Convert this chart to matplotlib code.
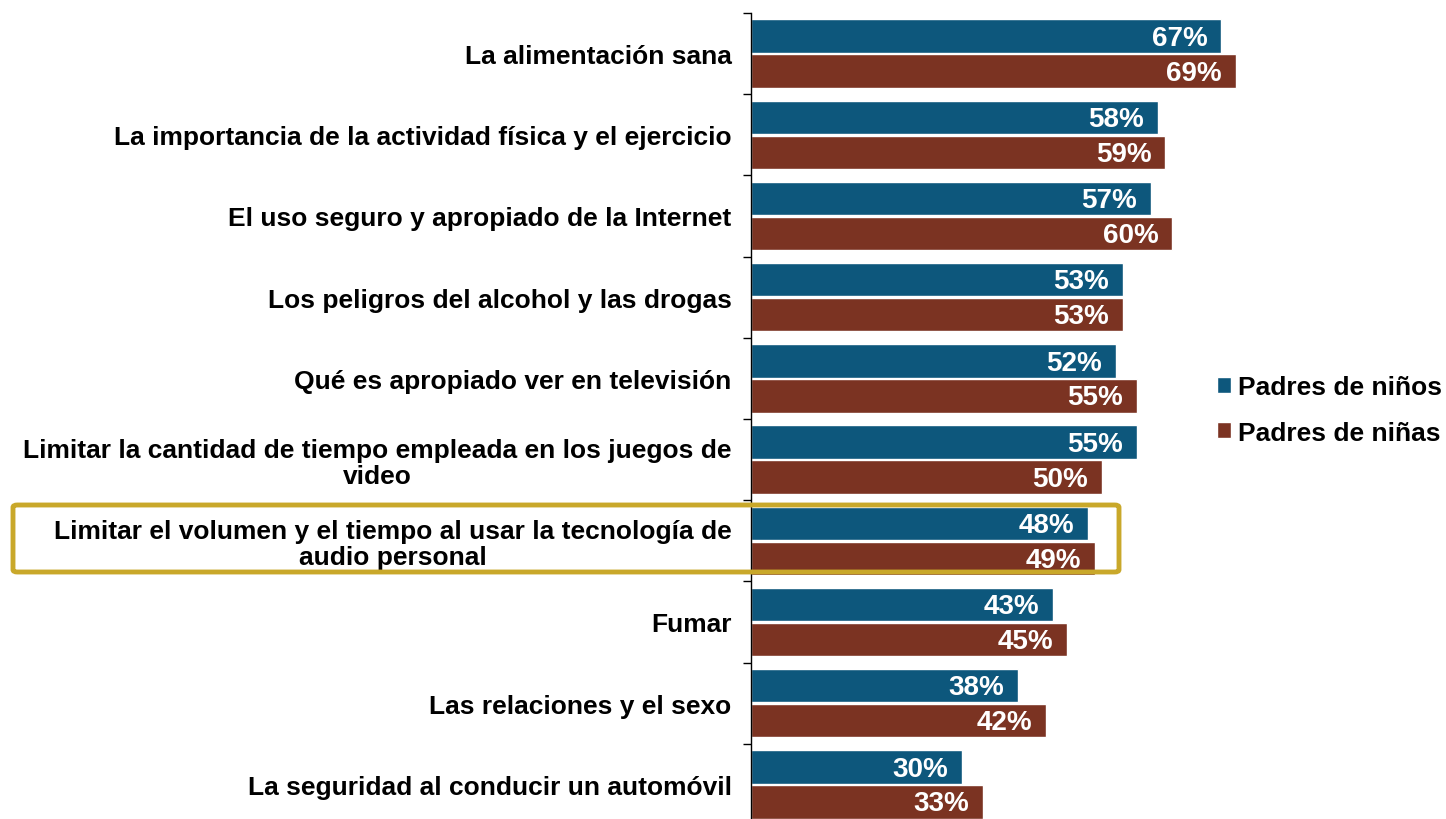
import matplotlib
matplotlib.use('Agg')
import matplotlib.pyplot as plt
import numpy as np
from matplotlib.patches import Patch, FancyBboxPatch

plt.rcParams['font.family'] = ['Liberation Sans', 'DejaVu Sans']

categorias = [
    'La alimentación sana',
    'La importancia de la actividad física y el ejercicio',
    'El uso seguro y apropiado de la Internet',
    'Los peligros del alcohol y las drogas',
    'Qué es apropiado ver en televisión',
    'Limitar la cantidad de tiempo empleada en los juegos de\nvideo',
    'Limitar el volumen y el tiempo al usar la tecnología de\naudio personal',
    'Fumar',
    'Las relaciones y el sexo',
    'La seguridad al conducir un automóvil',
]
padres_ninos = [67, 58, 57, 53, 52, 55, 48, 43, 38, 30]
padres_ninas = [69, 59, 60, 53, 55, 50, 49, 45, 42, 33]
series = ['Padres de niños', 'Padres de niñas']
colores = ['#0D577C', '#7B3322']

fig = plt.figure(figsize=(14.46, 8.2), dpi=100)
ax = fig.add_axes([751 / 1446, -6 / 820, 632 / 1446, 812 / 820])

y = np.arange(len(categorias))
h = 0.41
off = 0.215
b1 = ax.barh(y - off, padres_ninos, height=h, color=colores[0], edgecolor='white', linewidth=1)
b2 = ax.barh(y + off, padres_ninas, height=h, color=colores[1], edgecolor='white', linewidth=1)

# etiquetas de valor dentro de cada barra
for bars, vals in ((b1, padres_ninos), (b2, padres_ninas)):
    for bar, v in zip(bars, vals):
        ax.text(v - 2.0, bar.get_y() + bar.get_height() / 2 + 0.02, f'{v}%',
                ha='right', va='center', color='white', fontsize=20, fontweight='bold')

ax.set_xlim(0, 90)
ax.set_ylim(len(categorias) - 0.5, -0.5)
ax.set_yticks(y)
ax.set_yticklabels(categorias, fontsize=19, fontweight='bold', ha='right',
                   multialignment='center', linespacing=1.1)
ax.tick_params(axis='y', which='major', length=0, pad=14)
ax.set_yticks(np.arange(-0.5, len(categorias), 1), minor=True)
ax.tick_params(axis='y', which='minor', length=6, width=1, direction='out')
ax.set_xticks([])
for s in ['top', 'right', 'bottom']:
    ax.spines[s].set_visible(False)
ax.spines['left'].set_linewidth(1)

handles = [Patch(facecolor=c, edgecolor='white') for c in colores]
fig.legend(handles, series, loc='center left', bbox_to_anchor=(1193 / 1446, 1 - 411 / 820),
           frameon=False, prop={'size': 19, 'weight': 'bold'},
           handlelength=0.55, handleheight=0.55, handletextpad=0.25, labelspacing=0.8)

# recuadro de resaltado
caja = FancyBboxPatch((13 / 1446, 1 - 573 / 820), (1119 - 13) / 1446, (573 - 506) / 820,
                      boxstyle='round,pad=0,rounding_size=0.003', transform=fig.transFigure,
                      fill=False, edgecolor='#C9A82A', linewidth=3.5, zorder=10)
fig.patches.append(caja)

fig.savefig('out.png', dpi=100)
